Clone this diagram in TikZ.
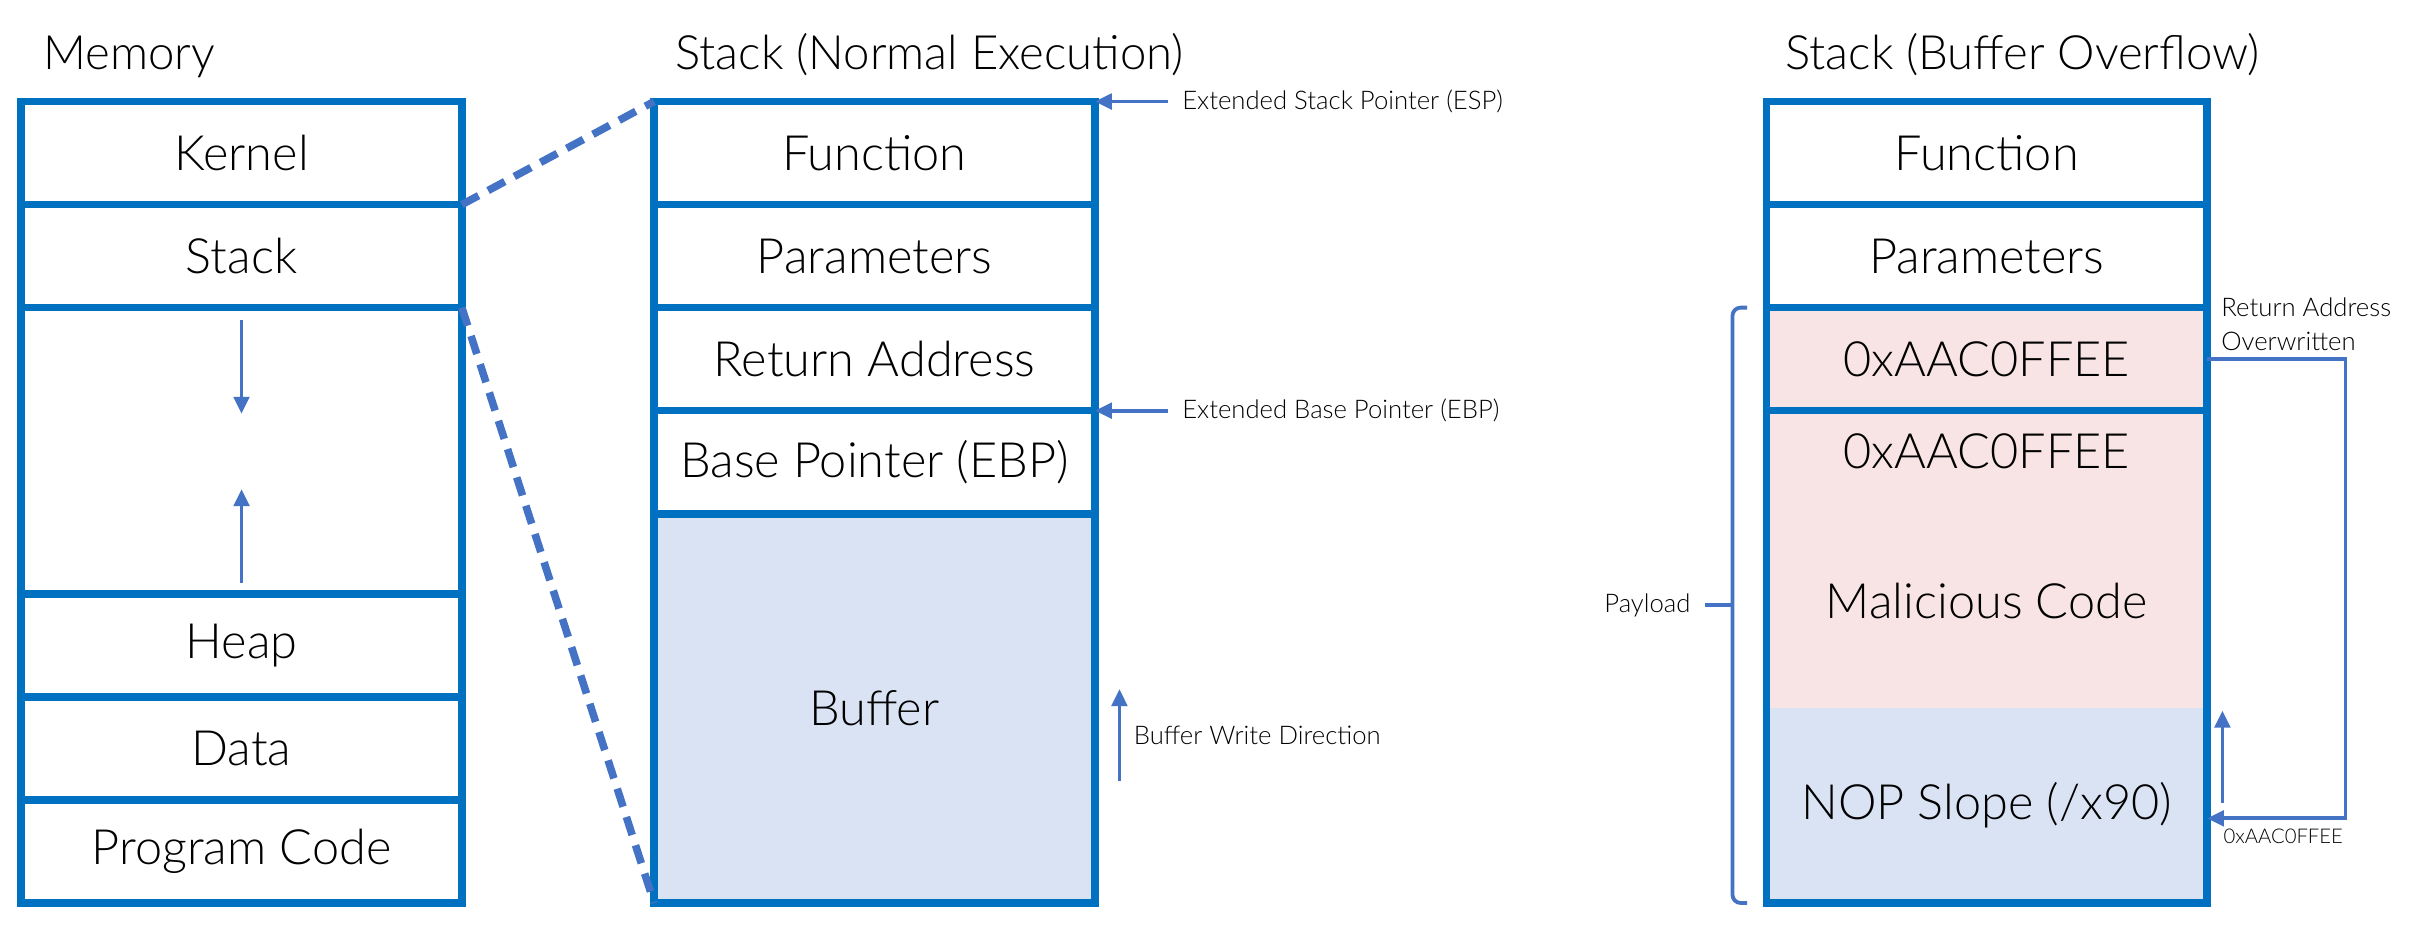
\documentclass[tikz,border=0pt]{standalone}
\usepackage{fontspec}
\setmainfont{Lato}[UprightFont={* Light}]
\usepackage{tikz}
\usetikzlibrary{arrows.meta, positioning, calc}
\usepackage{xcolor}

\definecolor{boxblue}{RGB}{0,112,192}
\definecolor{lineblue}{RGB}{68,114,196}
\definecolor{bufblue}{RGB}{218,227,243}
\definecolor{payred}{RGB}{248,228,228}

\begin{document}
\begin{tikzpicture}[
cellnode/.style={rectangle, draw=boxblue, line width=2.8pt, minimum width=5.73cm, minimum height=1.34cm, inner sep=0pt, outer sep=0pt, font=\fontsize{18}{20}\selectfont},
fillnode/.style={rectangle, minimum width=5.73cm, inner sep=0pt, outer sep=0pt, font=\fontsize{18}{20}\selectfont},
titletext/.style={inner sep=0pt, font=\fontsize{17.5}{20}\selectfont},
smalltext/.style={inner xsep=0.18cm, inner ysep=0pt, align=left, font=\fontsize{9.5}{12.5}\selectfont},
tinytext/.style={inner sep=0pt, font=\fontsize{7.5}{9}\selectfont},
ptr/.style={-{Triangle[length=0.22cm, width=0.2cm]}, draw=lineblue, line width=1.4pt},
zoomline/.style={draw=lineblue, line width=2.8pt, dash pattern=on 7pt off 4pt},
bracket/.style={draw=lineblue, line width=1.4pt},
]
\useasboundingbox[fill=white] (0,0) rectangle (31.36,12.22);

%Memory
\node[cellnode, anchor=north] at (3.14,10.9) (mkern) {Kernel};
\node[cellnode, below=0pt of mkern] (mstack) {Stack};
\node[cellnode, minimum height=3.72cm, below=0pt of mstack] (mgap) {};
\node[cellnode, below=0pt of mgap] (mheap) {Heap};
\node[cellnode, below=0pt of mheap] (mdata) {Data};
\node[cellnode, below=0pt of mdata] (mcode) {Program Code};
\node[titletext, anchor=base west] at ([shift={(0.28,0.41)}]mkern.north west) (tmem) {Memory};

%Stack (normal)
\node[cellnode, anchor=north] at (11.37,10.9) (nfunc) {Function};
\node[cellnode, below=0pt of nfunc] (nparam) {Parameters};
\node[cellnode, below=0pt of nparam] (nret) {Return Address};
\node[cellnode, below=0pt of nret] (nebp) {Base Pointer (EBP)};
\node[cellnode, fill=bufblue, minimum height=5.06cm, below=0pt of nebp] (nbuf) {Buffer};
\node[titletext, anchor=base west] at ([shift={(0.27,0.41)}]nfunc.north west) (tnorm) {Stack (Normal Execution)};

\node[smalltext, anchor=west] at ([xshift=0.95cm]nfunc.north east) (esp) {Extended Stack Pointer (ESP)};
\node[smalltext, anchor=west] at ([xshift=0.95cm]nret.south east) (ebp) {Extended Base Pointer (EBP)};
\node[smalltext, anchor=west] at ([shift={(0.32cm,-0.35cm)}]nbuf.east) (bwd) {Buffer Write Direction};

%Stack (overflow)
\node[cellnode, anchor=north] at (25.83,10.9) (ofunc) {Function};
\node[cellnode, below=0pt of ofunc] (oparam) {Parameters};
\node[cellnode, fill=payred, below=0pt of oparam] (oret) {0xAAC0FFEE};
\node[fillnode, fill=payred, minimum height=3.86cm, below=0pt of oret] (omal) {};
\node[fillnode, fill=bufblue, minimum height=2.54cm, below=0pt of omal] (onop) {NOP Slope (/x90)};
\draw[draw=boxblue, line width=2.8pt] (omal.north west) rectangle (onop.south east);
\node[fillnode, below=0.3cm of omal.north] (oaddr) {0xAAC0FFEE};
\node[fillnode] at ([yshift=-0.55cm]omal.center) (omcode) {Malicious Code};
\node[titletext, anchor=base west] at ([shift={(0.24,0.41)}]ofunc.north west) (tover) {Stack (Buffer Overflow)};

\node[smalltext, anchor=west] at ([yshift=-0.22cm]oret.north east) (rao) {Return Address\\Overwritten};
\node[tinytext] at ([shift={(0.99,-0.4)}]onop.east) (jmpaddr) {0xAAC0FFEE};
\coordinate (bmid) at ($(oret.north west)!0.5!(onop.south west)$);
\node[smalltext, anchor=east] at ([xshift=-0.8cm]bmid) (pay) {Payload};

%Lines
\draw[zoomline] (mstack.north east) -- (nfunc.north west);
\draw[zoomline] (mstack.south east) -- (nbuf.south west);

\draw[ptr] ([yshift=-0.16cm]mgap.north) -- ++(0,-1.22);
\draw[ptr] ([yshift=0.14cm]mgap.south) -- ++(0,1.22);

\draw[ptr] (esp.west) -- (nfunc.north east);
\draw[ptr] (ebp.west) -- (nret.south east);
\draw[ptr] ([yshift=-0.6cm]bwd.west) -- ([yshift=0.6cm]bwd.west);

\draw[ptr] (oret.east) -- ++(1.8,0) |- ([yshift=-0.17cm]onop.east);
\draw[ptr] ([shift={(0.2,-1.24)}]onop.north east) -- ([shift={(0.2,-0.04)}]onop.north east);

\draw[bracket, rounded corners=3pt] ([xshift=-0.25cm]oret.north west) -| ([xshift=-0.44cm]onop.south west) -- ([xshift=-0.25cm]onop.south west);
\draw[bracket] (pay.east) -- ([xshift=-0.44cm]bmid);

\end{tikzpicture}
\end{document}
